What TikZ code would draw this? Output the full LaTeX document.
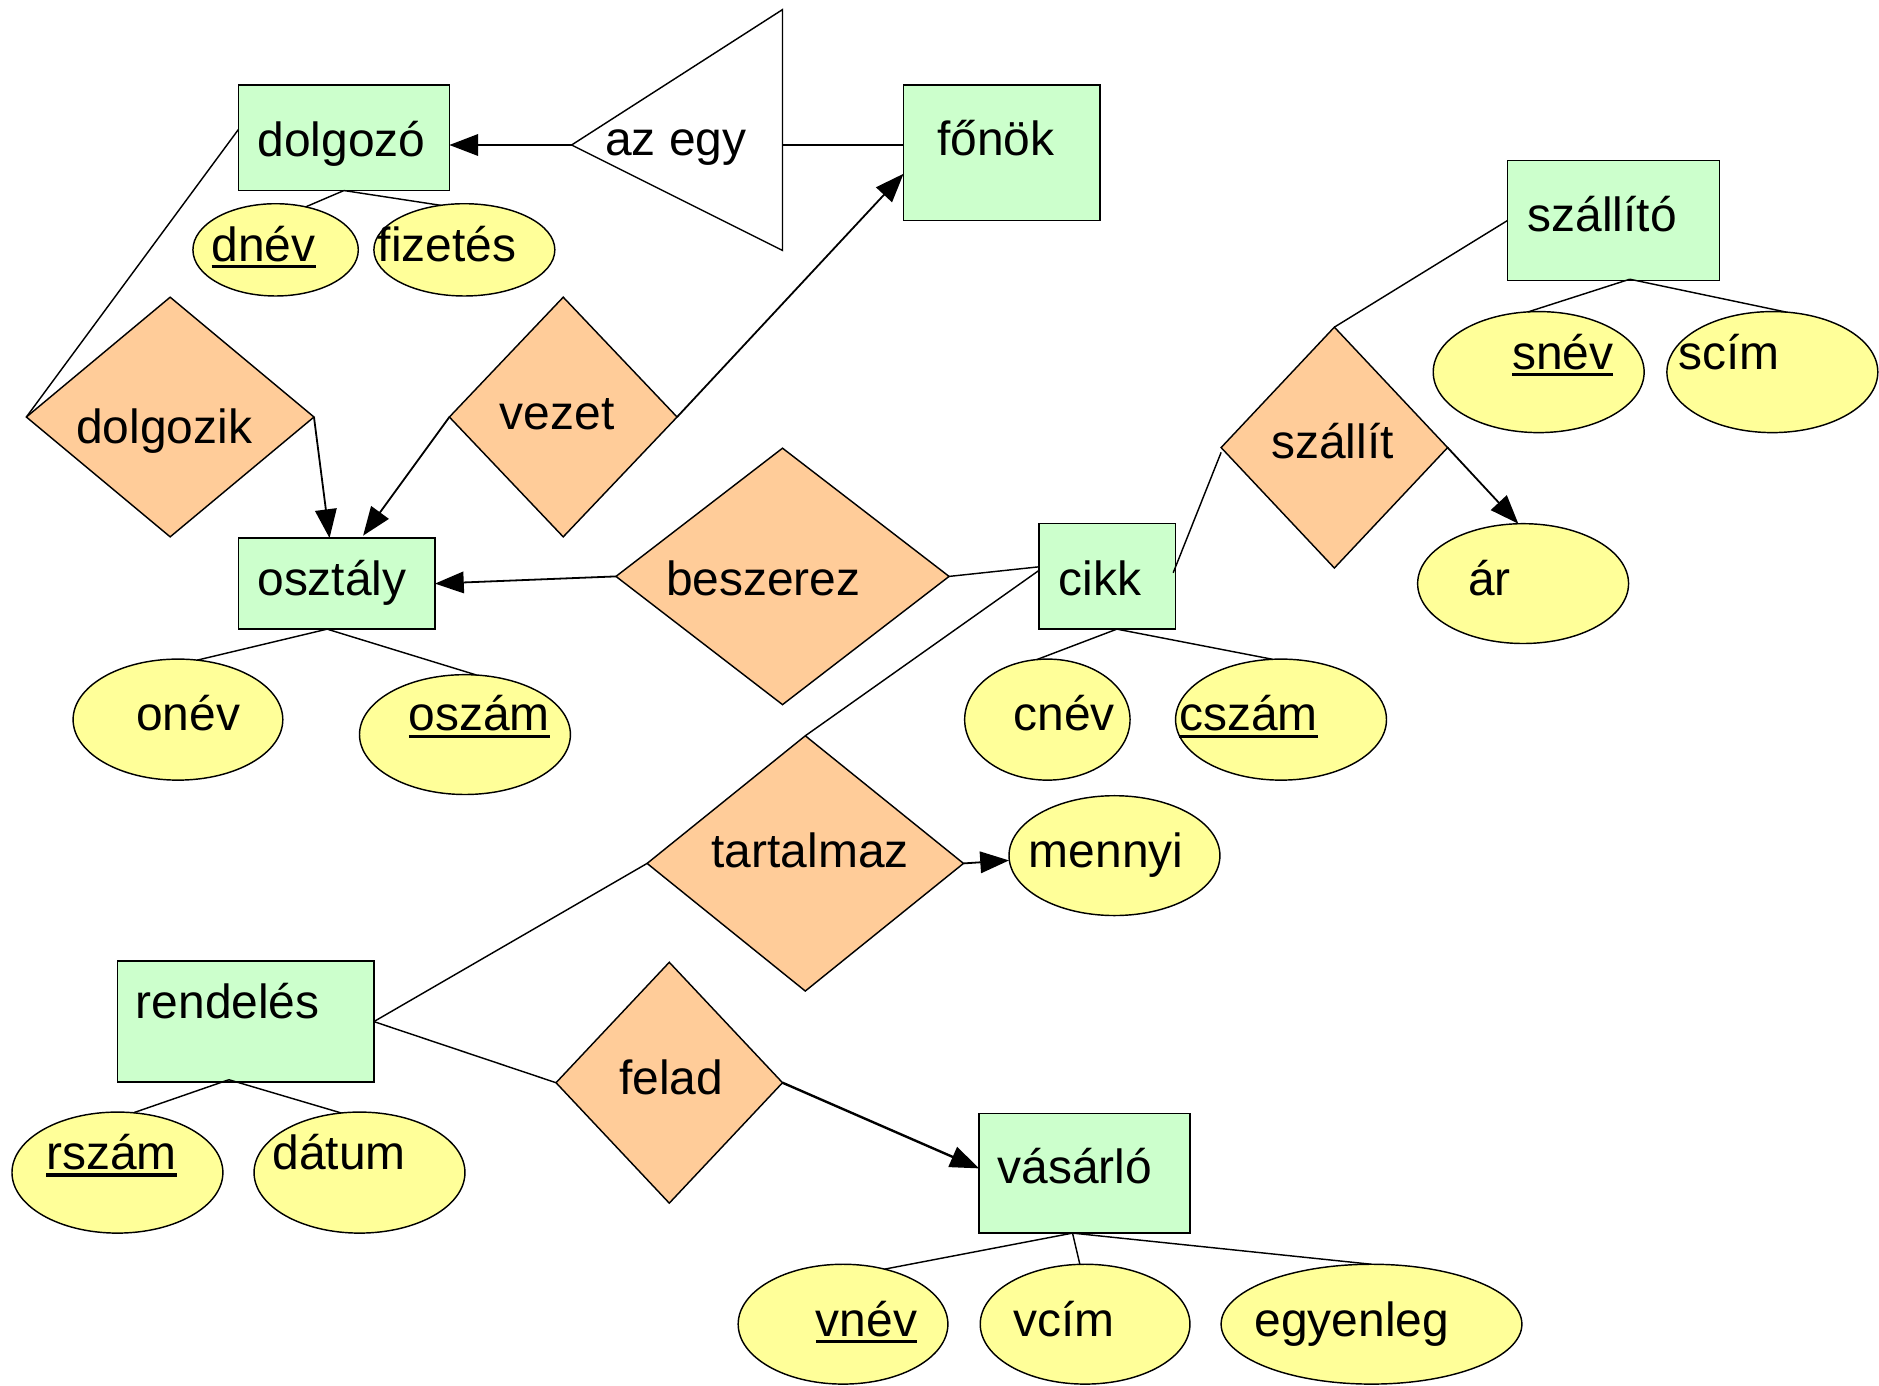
\documentclass[tikz,border=0pt]{standalone}
\usepackage{fontspec}
\setmainfont{Liberation Sans}
\usetikzlibrary{shapes.geometric,arrows.meta}
\definecolor{entfill}{HTML}{CCFFCC}
\definecolor{attfill}{HTML}{FFFF99}
\definecolor{relfill}{HTML}{FFCC99}
\newcommand\ulword[1]{\setbox0\hbox{#1}\rlap{\rule[-6pt]{\wd0}{2.8pt}}\box0}
\begin{document}
\begin{tikzpicture}[x=1pt,y=-1pt,line width=1.2pt,
  lbl/.style={font=\fontsize{40}{48}\selectfont,inner sep=0pt,text height=0pt,text depth=0pt,anchor=base},
  ent/.style={draw,fill=entfill,rectangle,inner sep=0pt,outer sep=0pt},
  att/.style={draw,fill=attfill,ellipse,inner sep=0pt,outer sep=0pt},
  rel/.style={draw,fill=relfill,diamond,inner sep=0pt,outer sep=0pt},
  arr/.style={line width=1.5pt,-{Triangle[length=24pt,width=18pt]}}]
\useasboundingbox (0,0) rectangle (1568,1156);

% entities
\node[ent,minimum width=176pt,minimum height=88pt,label={[lbl,xshift=-2pt,yshift=-16pt]center:dolgozó}] (dolgozo) at (287,115) {};
\node[ent,minimum width=164pt,minimum height=113pt,label={[lbl,xshift=-5pt,yshift=-2.5pt]center:főnök}] (fonok) at (836,127.5) {};
\node[ent,minimum width=177pt,minimum height=100pt,label={[lbl,xshift=-9.5pt,yshift=-9pt]center:szállító}] (szallito) at (1346.5,184) {};
\node[ent,minimum width=164pt,minimum height=76pt,label={[lbl,xshift=-4pt,yshift=-10pt]center:osztály}] (osztaly) at (281,487) {};
\node[ent,minimum width=114pt,minimum height=88pt,label={[lbl,xshift=-6pt,yshift=-16pt]center:cikk}] (cikk) at (924,481) {};
\node[ent,minimum width=214pt,minimum height=101pt,label={[lbl,xshift=-15pt,yshift=2.5pt]center:rendelés}] (rendeles) at (205,852.5) {};
\node[ent,minimum width=176pt,minimum height=100pt,label={[lbl,xshift=-8pt,yshift=-9pt]center:vásárló}] (vasarlo) at (905,979) {};

% attributes
\node[att,minimum width=138pt,minimum height=77pt,label={[lbl,xshift=-10pt,yshift=-9.5pt]center:\ulword{dnév}}] (dnev) at (230,208.5) {};
\node[att,minimum width=151pt,minimum height=77pt,label={[lbl,xshift=-14.5pt,yshift=-9.5pt]center:fizetés}] (fizetes) at (387.5,208.5) {};
\node[att,minimum width=175pt,minimum height=101pt,label={[lbl,xshift=8.5pt,yshift=-9.5pt]center:onév}] (onev) at (148.5,600.5) {};
\node[att,minimum width=176pt,minimum height=100pt,label={[lbl,xshift=12pt,yshift=3pt]center:\ulword{oszám}}] (oszam) at (388,613) {};
\node[att,minimum width=138pt,minimum height=101pt,label={[lbl,xshift=14pt,yshift=-9.5pt]center:cnév}] (cnev) at (874,600.5) {};
\node[att,minimum width=176pt,minimum height=101pt,label={[lbl,xshift=-27pt,yshift=-9.5pt]center:\ulword{cszám}}] (cszam) at (1069,600.5) {};
\node[att,minimum width=176pt,minimum height=101pt,label={[lbl,xshift=20pt,yshift=2.5pt]center:\ulword{snév}}] (snev) at (1284,310.5) {};
\node[att,minimum width=176pt,minimum height=101pt,label={[lbl,xshift=-36pt,yshift=2.5pt]center:scím}] (scim) at (1479,310.5) {};
\node[att,minimum width=176pt,minimum height=100pt,label={[lbl,xshift=-28pt,yshift=-10pt]center:ár}] (ar) at (1271,487) {};
\node[att,minimum width=176pt,minimum height=100pt,label={[lbl,xshift=-7pt,yshift=-10pt]center:mennyi}] (mennyi) at (930,714) {};
\node[att,minimum width=176pt,minimum height=101pt,label={[lbl,xshift=-5pt,yshift=2.5pt]center:\ulword{rszám}}] (rszam) at (98,978.5) {};
\node[att,minimum width=176pt,minimum height=101pt,label={[lbl,xshift=-17pt,yshift=2.5pt]center:dátum}] (datum) at (300,978.5) {};
\node[att,minimum width=175pt,minimum height=100pt,label={[lbl,xshift=19.5pt,yshift=-10pt]center:\ulword{vnév}}] (vnev) at (703.5,1105) {};
\node[att,minimum width=175pt,minimum height=100pt,label={[lbl,xshift=-17.5pt,yshift=-10pt]center:vcím}] (vcim) at (905.5,1105) {};
\node[att,minimum width=251pt,minimum height=100pt,label={[lbl,xshift=-16.5pt,yshift=-10pt]center:egyenleg}] (egyenleg) at (1144.5,1105) {};

% relationships
\node[rel,minimum width=240pt,minimum height=200pt,label={[lbl,xshift=-5pt,yshift=-22pt]center:dolgozik}] (dolgozik) at (142,348) {};
\node[rel,minimum width=190pt,minimum height=200pt,label={[lbl,xshift=-5pt,yshift=-10pt]center:vezet}] (vezet) at (470,348) {};
\node[rel,minimum width=278pt,minimum height=214pt,label={[lbl,xshift=-16pt,yshift=-16pt]center:beszerez}] (beszerez) at (653,481) {};
\node[rel,minimum width=189pt,minimum height=201pt,label={[lbl,xshift=-1.5pt,yshift=-9.5pt]center:szállít}] (szallit) at (1113.5,373.5) {};
\node[rel,minimum width=264pt,minimum height=213pt,label={[lbl,xshift=4pt,yshift=-3.5pt]center:tartalmaz}] (tartalmaz) at (672,720.5) {};
\node[rel,minimum width=189pt,minimum height=201pt,label={[lbl,xshift=1.5pt,yshift=-9.5pt]center:felad}] (felad) at (558.5,903.5) {};

% is-a triangle
\coordinate (tA) at (477,121);
\coordinate (tT) at (653,8);
\coordinate (tB) at (653,209);
\coordinate (tR) at (653,121);
\draw[fill=white] (tA) -- (tT) -- (tB) -- cycle;
\node[lbl] (azegy) at (564,130) {az egy};

% connectors
\draw[arr] (tA) -- ([yshift=-6pt]dolgozo.east);
\draw (tR) -- ([yshift=6.5pt]fonok.west);
\draw ([yshift=7pt]dolgozo.west) -- (dolgozik.west);
\draw[arr] (dolgozik.east) -- ([xshift=-6pt]osztaly.north);
\draw[arr] (vezet.west) -- ([xshift=22pt,yshift=2pt]osztaly.north);
\draw[arr] (vezet.east) -- ([yshift=-17.5pt]fonok.west);
\draw[arr] (beszerez.west) -- (osztaly.east);
\draw ([yshift=0pt]beszerez.east) -- ([yshift=8pt]cikk.west);
\draw ([yshift=5pt]cikk.west) -- (tartalmaz.north);
\draw ([xshift=-2pt,yshift=3pt]cikk.east) -- ([yshift=-4pt]szallit.west);
\draw (szallit.north) -- (szallito.west);
\draw[arr] (szallit.east) -- ([xshift=-4pt]ar.north);
\draw[arr] (tartalmaz.east) -- ([yshift=-4pt]mennyi.west);
\draw (tartalmaz.west) -- (rendeles.east);
\draw (rendeles.east) -- (felad.west);
\draw[arr,line width=2pt] (felad.east) -- ([yshift=4pt]vasarlo.west);

% attribute links
\draw (dolgozo.south) -- (dnev.55);
\draw (dolgozo.south) -- (fizetes.118);
\draw ([xshift=-8pt]osztaly.south) -- (onev.72);
\draw ([xshift=-8pt]osztaly.south) -- (oszam.79);
\draw ([xshift=8pt]cikk.south) -- (cnev.100);
\draw ([xshift=8pt]cikk.south) -- (cszam.98);
\draw ([xshift=13.5pt,yshift=1pt]szallito.south) -- (snev.100);
\draw ([xshift=13.5pt,yshift=1pt]szallito.south) -- (scim.77);
\draw ([xshift=-14pt,yshift=2pt]rendeles.south) -- (rszam.75);
\draw ([xshift=-14pt,yshift=2pt]rendeles.south) -- (datum.107);
\draw ([xshift=-10pt]vasarlo.south) -- (vnev.53);
\draw ([xshift=-10pt]vasarlo.south) -- (vcim.95);
\draw ([xshift=-10pt]vasarlo.south) -- (egyenleg.90);
\end{tikzpicture}
\end{document}
